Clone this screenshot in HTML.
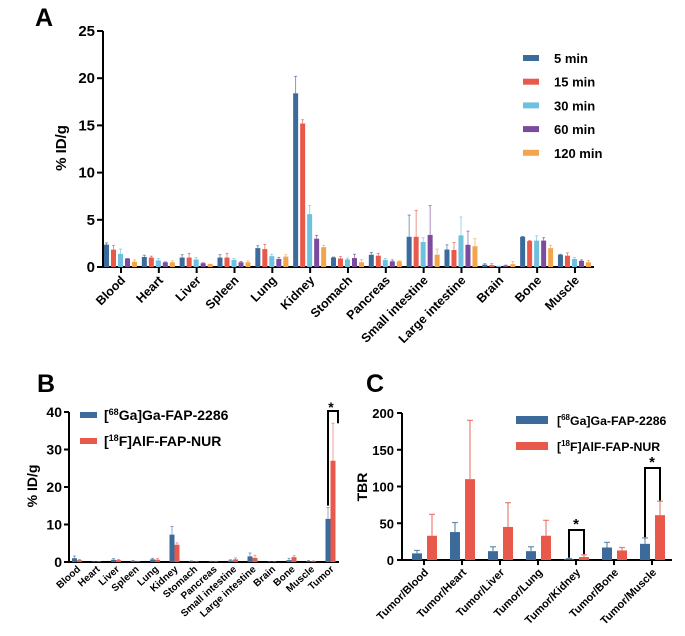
<!DOCTYPE html>
<html><head><meta charset="utf-8"><style>
html,body{margin:0;padding:0;background:#fff;}
svg{display:block;font-family:"Liberation Sans",Arial,sans-serif;font-weight:bold;}
</style></head><body>
<svg id="s" width="685" height="636" viewBox="0 0 685 636"></svg>
<script>
// ---- Panel A data ----
const aCats=["Blood","Heart","Liver","Spleen","Lung","Kidney","Stomach","Pancreas","Small intestine","Large intestine","Brain","Bone","Muscle"];
const aSeries=["5 min","15 min","30 min","60 min","120 min"];
const a5=[2.37,1.06,1.0,1.0,2.0,18.4,1.0,1.3,3.2,1.85,0.25,3.2,1.3];
const a15=[1.84,1.0,1.0,1.0,1.9,15.2,0.9,1.2,3.2,1.8,0.2,2.75,1.2];
const a30=[1.4,0.7,0.8,0.75,1.15,5.6,0.8,0.75,2.65,3.35,0.1,2.8,0.85];
const a60=[0.9,0.5,0.4,0.5,0.85,3.0,0.95,0.6,3.4,2.35,0.15,2.8,0.65];
const a120=[0.55,0.5,0.3,0.5,1.1,2.1,0.5,0.6,1.3,2.2,0.3,2.0,0.5];
const e5=[2.55,1.25,1.3,1.3,2.25,20.2,1.05,1.55,5.5,2.35,0.35,3.25,1.35];
const e15=[2.3,1.15,1.45,1.45,2.4,15.6,1.1,1.45,6.0,2.6,0.35,2.8,1.5];
const e30=[1.9,0.9,1.0,0.9,1.35,6.5,0.95,0.9,3.1,5.3,0.1,3.3,1.0];
const e60=[0.9,0.55,0.45,0.6,1.0,3.35,1.35,0.75,6.5,3.8,0.2,3.1,0.75];
const e120=[0.75,0.65,0.3,0.65,1.3,2.3,0.8,0.65,1.9,3.0,0.6,2.3,0.7];
const aTicks=[0,5,10,15,20,25];
// ---- Panel B data ----
const bCats=["Blood","Heart","Liver","Spleen","Lung","Kidney","Stomach","Pancreas","Small intestine","Large intestine","Brain","Bone","Muscle","Tumor"];
const bGa=[1.0,0.1,0.6,0.3,0.7,7.3,0.2,0.1,0.4,1.5,0.05,0.5,0.2,11.5];
const bF=[0.5,0.1,0.5,0.1,0.6,4.6,0.1,0.1,0.7,1.1,0.05,1.3,0.2,27];
const bGaErr=[1.6,0.15,0.9,0.4,1.0,9.5,0.3,0.2,0.6,2.4,0.1,1.0,0.4,14.5];
const bFErr=[0.7,0.15,0.7,0.2,0.9,5.1,0.2,0.2,1.1,1.8,0.1,1.7,0.3,37];
const bTicks=[0,10,20,30,40];
// ---- Panel C data ----
const cCats=["Tumor/Blood","Tumor/Heart","Tumor/Liver","Tumor/Lung","Tumor/Kidney","Tumor/Bone","Tumor/Muscle"];
const cGa=[9,38,12,12,1,17,22];
const cF=[33,110,45,33,4,13,61];
const cGaErr=[13,51,18,18,2,24,30];
const cFErr=[62,190,78,54,7,17,80];
const cTicks=[0,50,100,150,200];

const NS="http://www.w3.org/2000/svg";
const svg=document.getElementById('s');
function mk(tag,at,parent,txt){const e=document.createElementNS(NS,tag);for(const k in at)e.setAttribute(k,at[k]);if(txt!==undefined)e.textContent=txt;(parent||svg).appendChild(e);return e;}
const BLUE="#3c6a9b",RED="#e8594c",CYAN="#6fc0de",PURP="#7b4b9e",ORNG="#f2a64b";

// ===== Panel A =====
const gA=mk('g',{});


const A={x0:103,x1:594,y0:267,y1:31,max:25};
const ay=v=>A.y0-(v/A.max)*(A.y0-A.y1);
const ax=i=>121+i*37.83;
let t=mk('text',{x:35,y:26,'font-size':25},gA,'A');

mk('line',{x1:A.x0,y1:A.y1,x2:A.x0,y2:A.y0,stroke:'#000','stroke-width':2},gA);
mk('line',{x1:A.x0-1,y1:A.y0,x2:A.x1,y2:A.y0,stroke:'#000','stroke-width':2},gA);
aTicks.forEach(v=>{mk('line',{x1:A.x0-6,y1:ay(v),x2:A.x0,y2:ay(v),stroke:'#000','stroke-width':2},gA);
 const tl=mk('text',{x:A.x0-8,y:ay(v)+5,'font-size':15,'text-anchor':'end'},gA,String(v));
 });
t=mk('text',{x:0,y:0,'font-size':15,'text-anchor':'middle',transform:'translate(66,148) rotate(-90)'},gA,'% ID/g');

const aVals=[a5,a15,a30,a60,a120],aErrs=[e5,e15,e30,e60,e120],aCols=[BLUE,RED,CYAN,PURP,ORNG];
aCats.forEach((c,i)=>{
 const cx=ax(i);
 mk('line',{x1:cx,y1:A.y0,x2:cx,y2:A.y0+6,stroke:'#000','stroke-width':2},gA);
 const lb=mk('text',{x:0,y:0,'font-size':12.5,'text-anchor':'end',transform:`translate(${cx+5},${A.y0+14}) rotate(-45)`},gA,c);
 
 aVals.forEach((arr,s)=>{
  const bx=cx-17+s*7, w=5;
  const ey=ay(aErrs[s][i]);
  mk('line',{x1:bx+w/2,y1:ay(arr[i]),x2:bx+w/2,y2:ey,stroke:aCols[s],'stroke-width':0.8,opacity:0.8},gA);
  mk('line',{x1:bx+w/2-1.5,y1:ey,x2:bx+w/2+1.5,y2:ey,stroke:aCols[s],'stroke-width':0.8,opacity:0.8},gA);
  const r=mk('rect',{x:bx,y:ay(arr[i]),width:w,height:A.y0-ay(arr[i]),fill:aCols[s]},gA);
  
 });
});
aSeries.forEach((n,s)=>{const y=58+s*23.7;
 mk('rect',{x:523,y:y-3,width:16,height:6,fill:aCols[s]},gA);
 const l=mk('text',{x:554,y:y+5,'font-size':13},gA,n);
 });

// ===== Panel B =====
const gB=mk('g',{});


const B={x0:69,x1:339,y0:562,y1:412,max:40};
const by=v=>B.y0-(v/B.max)*(B.y0-B.y1);
const bx=i=>77+i*19.5;
t=mk('text',{x:37,y:392,'font-size':25},gB,'B');

mk('line',{x1:B.x0,y1:B.y1,x2:B.x0,y2:B.y0,stroke:'#000','stroke-width':2},gB);
mk('line',{x1:B.x0-1,y1:B.y0,x2:B.x1,y2:B.y0,stroke:'#000','stroke-width':2},gB);
bTicks.forEach(v=>{mk('line',{x1:B.x0-5,y1:by(v),x2:B.x0,y2:by(v),stroke:'#000','stroke-width':2},gB);
 const tl=mk('text',{x:B.x0-7,y:by(v)+5,'font-size':14,'text-anchor':'end'},gB,String(v));
 });
t=mk('text',{x:0,y:0,'font-size':14,'text-anchor':'middle',transform:'translate(37,486) rotate(-90)'},gB,'% ID/g');

bCats.forEach((c,i)=>{const cx=bx(i);
 [[bGa,bGaErr,BLUE,-5],[bF,bFErr,RED,0]].forEach(([v,e,col,off])=>{
  const x=cx+off,ey=by(e[i]);
  mk('line',{x1:x+2.5,y1:by(v[i]),x2:x+2.5,y2:ey,stroke:col,'stroke-width':0.8,opacity:0.7},gB);
  mk('line',{x1:x+1,y1:ey,x2:x+4,y2:ey,stroke:col,'stroke-width':0.8,opacity:0.7},gB);
  const r=mk('rect',{x:x,y:by(v[i]),width:5,height:B.y0-by(v[i]),fill:col},gB);
  });
 const lb=mk('text',{x:0,y:0,'font-size':10,'text-anchor':'end',transform:`translate(${cx+4},${B.y0+8}) rotate(-42)`},gB,c);
 });
{const tx=bx(13);mk('path',{d:`M${tx-2.5} ${by(14.5)-2} V411 H${tx+2.5+5} V${by(37)}`,fill:'none',stroke:'#000','stroke-width':2},gB);
 const st=mk('text',{x:tx+0.5,y:412,'font-size':14,'text-anchor':'middle'},gB,'*');
 }
[["[","68","Ga]Ga-FAP-2286",BLUE],["[","18","F]AlF-FAP-NUR",RED]].forEach((L,k)=>{const y=415+k*26;
 mk('rect',{x:80,y:y-3,width:17,height:6,fill:L[3]},gB);
 const tx=mk('text',{x:104,y:y+5,'font-size':14},gB);
 
 mk('tspan',{},tx,L[0]);mk('tspan',{'font-size':9,dy:-5},tx,L[1]);mk('tspan',{dy:5},tx,L[2]);});

// ===== Panel C =====
const gC=mk('g',{});


const C={x0:402,x1:672,y0:560,y1:413,max:200};
const cy=v=>C.y0-(v/C.max)*(C.y0-C.y1);
const cxf=i=>424+i*38;
t=mk('text',{x:366,y:392,'font-size':25},gC,'C');

mk('line',{x1:C.x0,y1:C.y1,x2:C.x0,y2:C.y0,stroke:'#000','stroke-width':2},gC);
mk('line',{x1:C.x0-1,y1:C.y0,x2:C.x1,y2:C.y0,stroke:'#000','stroke-width':2},gC);
cTicks.forEach(v=>{mk('line',{x1:C.x0-5,y1:cy(v),x2:C.x0,y2:cy(v),stroke:'#000','stroke-width':2},gC);
 const tl=mk('text',{x:C.x0-8,y:cy(v)+5,'font-size':13,'text-anchor':'end'},gC,String(v));
 });
t=mk('text',{x:0,y:0,'font-size':14,'text-anchor':'middle',transform:'translate(367,487) rotate(-90)'},gC,'TBR');

cCats.forEach((c,i)=>{const cx=cxf(i);
 mk('line',{x1:cx,y1:C.y0,x2:cx,y2:C.y0+5,stroke:'#000','stroke-width':2},gC);
 [[cGa,cGaErr,BLUE,-12],[cF,cFErr,RED,3]].forEach(([v,e,col,off])=>{
  const x=cx+off,ey=cy(e[i]);
  mk('line',{x1:x+5,y1:cy(v[i]),x2:x+5,y2:ey,stroke:col,'stroke-width':1.2,opacity:0.75},gC);
  mk('line',{x1:x+2,y1:ey,x2:x+8,y2:ey,stroke:col,'stroke-width':1.2,opacity:0.75},gC);
  const r=mk('rect',{x:x,y:cy(v[i]),width:10,height:C.y0-cy(v[i]),fill:col},gC);
  });
 const lb=mk('text',{x:0,y:0,'font-size':11,'text-anchor':'end',transform:`translate(${cx+5},${C.y0+13}) rotate(-45)`},gC,c);
 });
[[4,530,cy(3),cy(8)],[6,468,cy(31),cy(81)]].forEach(([i,top,l,r])=>{const cx=cxf(i);
 mk('path',{d:`M${cx-7} ${l} V${top} H${cx+8} V${r}`,fill:'none',stroke:'#000','stroke-width':2},gC);
 const st=mk('text',{x:cx,y:top-1,'font-size':15,'text-anchor':'middle'},gC,'*');
 });
[["[","68","Ga]Ga-FAP-2286",BLUE],["[","18","F]AlF-FAP-NUR",RED]].forEach((L,k)=>{const y=420+k*26;
 mk('rect',{x:516,y:y-4,width:32,height:8,fill:L[3]},gC);
 const tx=mk('text',{x:557,y:y+5,'font-size':12.3},gC);
 
 mk('tspan',{},tx,L[0]);mk('tspan',{'font-size':8,dy:-5},tx,L[1]);mk('tspan',{dy:5},tx,L[2]);});
</script>
</body></html>
